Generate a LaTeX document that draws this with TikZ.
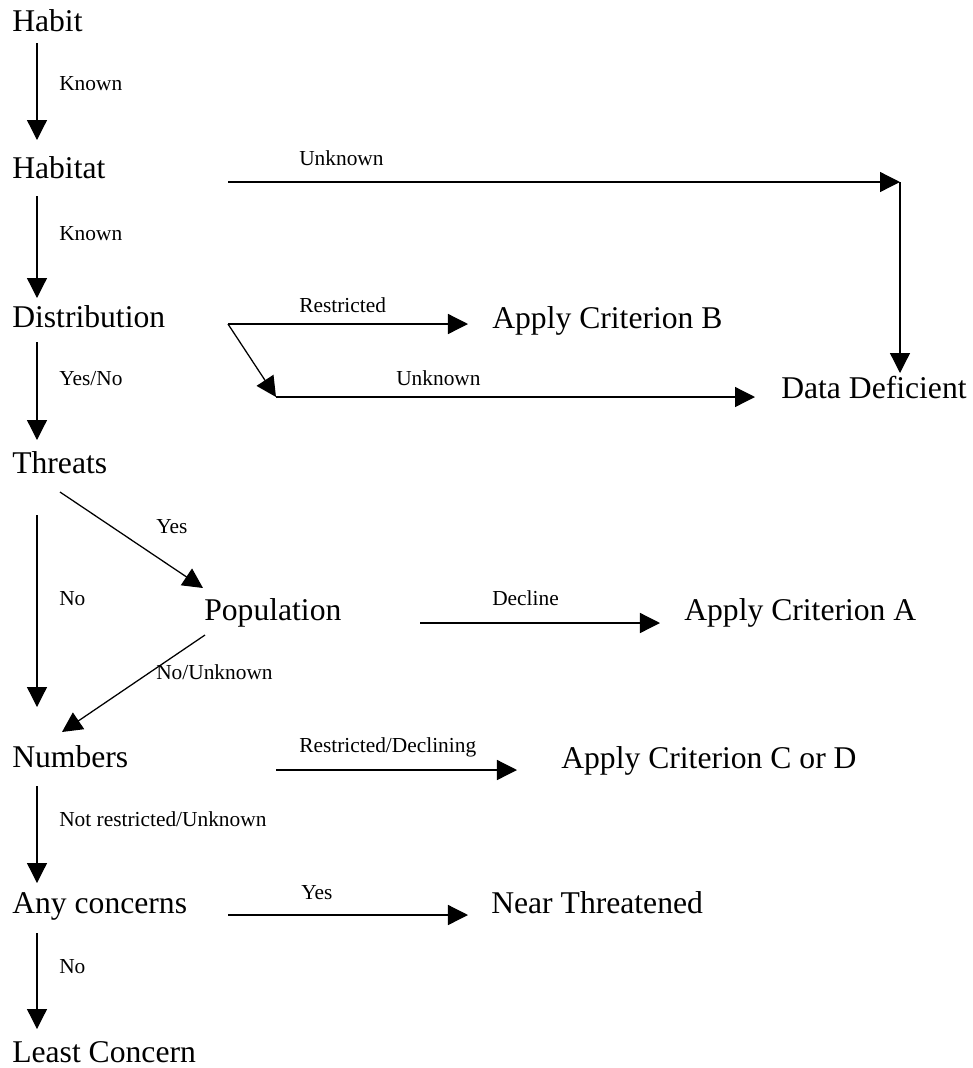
\documentclass[tikz,border=0pt]{standalone}
\usepackage{fontspec}
\setmainfont{Liberation Serif}
\usepackage{tikz}
\usetikzlibrary{arrows.meta,calc}

\begin{document}
\begin{tikzpicture}[
      x=0.025cm, y=-0.025cm,
      stage/.style={anchor=base west, inner sep=0pt, font=\fontsize{22.5}{27}\selectfont},
      lbl/.style={anchor=base west, inner sep=0pt, font=\fontsize{15.2}{18}\selectfont},
      flow/.style={-{Triangle[width=0.5cm,length=0.5cm]}, line width=0.9pt}]
    \useasboundingbox (0,0) rectangle (973,1068);
    \node[stage] (habit) at (12,31) {Habit};
    \node[stage] (habitat) at (12,178) {Habitat};
    \node[stage] (distrib) at (12,327) {Distribution};
    \node[stage] (threats) at (12,473) {Threats};
    \node[stage] (numbers) at (12,767) {Numbers};
    \node[stage] (concerns) at (12,913) {Any concerns};
    \node[stage] (least) at (12,1062) {Least Concern};
    \node[stage] (population) at (204,620) {Population};
    \node[stage] (critB) at (492,328) {Apply Criterion B};
    \node[stage] (deficient) at (781,398) {Data Deficient};
    \node[stage] (critA) at (684,620) {Apply Criterion A};
    \node[stage] (critCD) at (561,768) {Apply Criterion C or D};
    \node[stage] (nearthr) at (491,913) {Near Threatened};
    \coordinate (ddturn) at (900,182);
    \coordinate (split) at (276,397);
    \draw[flow] ($(habit.base west)+(25,12)$) -- ($(habitat.base west)+(25,-38)$);
    \draw[flow] ($(habitat.base west)+(25,18)$) -- ($(distrib.base west)+(25,-29)$);
    \draw[flow] ($(distrib.base west)+(25,15)$) -- ($(threats.base west)+(25,-33)$);
    \draw[flow] ($(threats.base west)+(25,42)$) -- ($(numbers.base west)+(25,-60)$);
    \draw[flow] ($(threats.base west)+(48,19)$) -- ($(population.base west)+(-1,-32)$);
    \draw[flow] ($(population.base west)+(1,15)$) -- ($(numbers.base west)+(50,-35)$);
    \draw[flow] ($(numbers.base west)+(25,19)$) -- ($(concerns.base west)+(25,-30)$);
    \draw[flow] ($(concerns.base west)+(25,20)$) -- ($(least.base west)+(25,-33)$);
    \draw[flow] ($(habitat.base west)+(216,4)$) -- (ddturn);
    \draw[flow] (ddturn) -- ($(deficient.base west)+(119,-25)$);
    \draw[flow] ($(distrib.base west)+(216,-3)$) -- ($(critB.base west)+(-24,-4)$);
    \draw[flow] ($(distrib.base west)+(216,-3)$) -- (split);
    \draw[flow] (split) -- ($(deficient.base west)+(-26,-1)$);
    \draw[flow] ($(population.base west)+(216,3)$) -- ($(critA.base west)+(-24,3)$);
    \draw[flow] ($(numbers.base west)+(264,3)$) -- ($(critCD.base west)+(-44,2)$);
    \draw[flow] ($(concerns.base west)+(216,2)$) -- ($(nearthr.base west)+(-23,2)$);
    \node[lbl] (kn1) at (59,90) {Known};
    \node[lbl] (unk1) at (299,165) {Unknown};
    \node[lbl] (kn2) at (59,240) {Known};
    \node[lbl] (restr) at (299,312) {Restricted};
    \node[lbl] (unk2) at (396,385) {Unknown};
    \node[lbl] (yesno) at (59,385) {Yes/No};
    \node[lbl] (yes1) at (156,533) {Yes};
    \node[lbl] (no1) at (59,605) {No};
    \node[lbl] (decl) at (492,605) {Decline};
    \node[lbl] (nounk) at (156,679) {No/Unknown};
    \node[lbl] (resdec) at (299,752) {Restricted/Declining};
    \node[lbl] (notres) at (59,826) {Not restricted/Unknown};
    \node[lbl] (yes2) at (301,899) {Yes};
    \node[lbl] (no2) at (59,973) {No};
  \end{tikzpicture}
\end{document}
